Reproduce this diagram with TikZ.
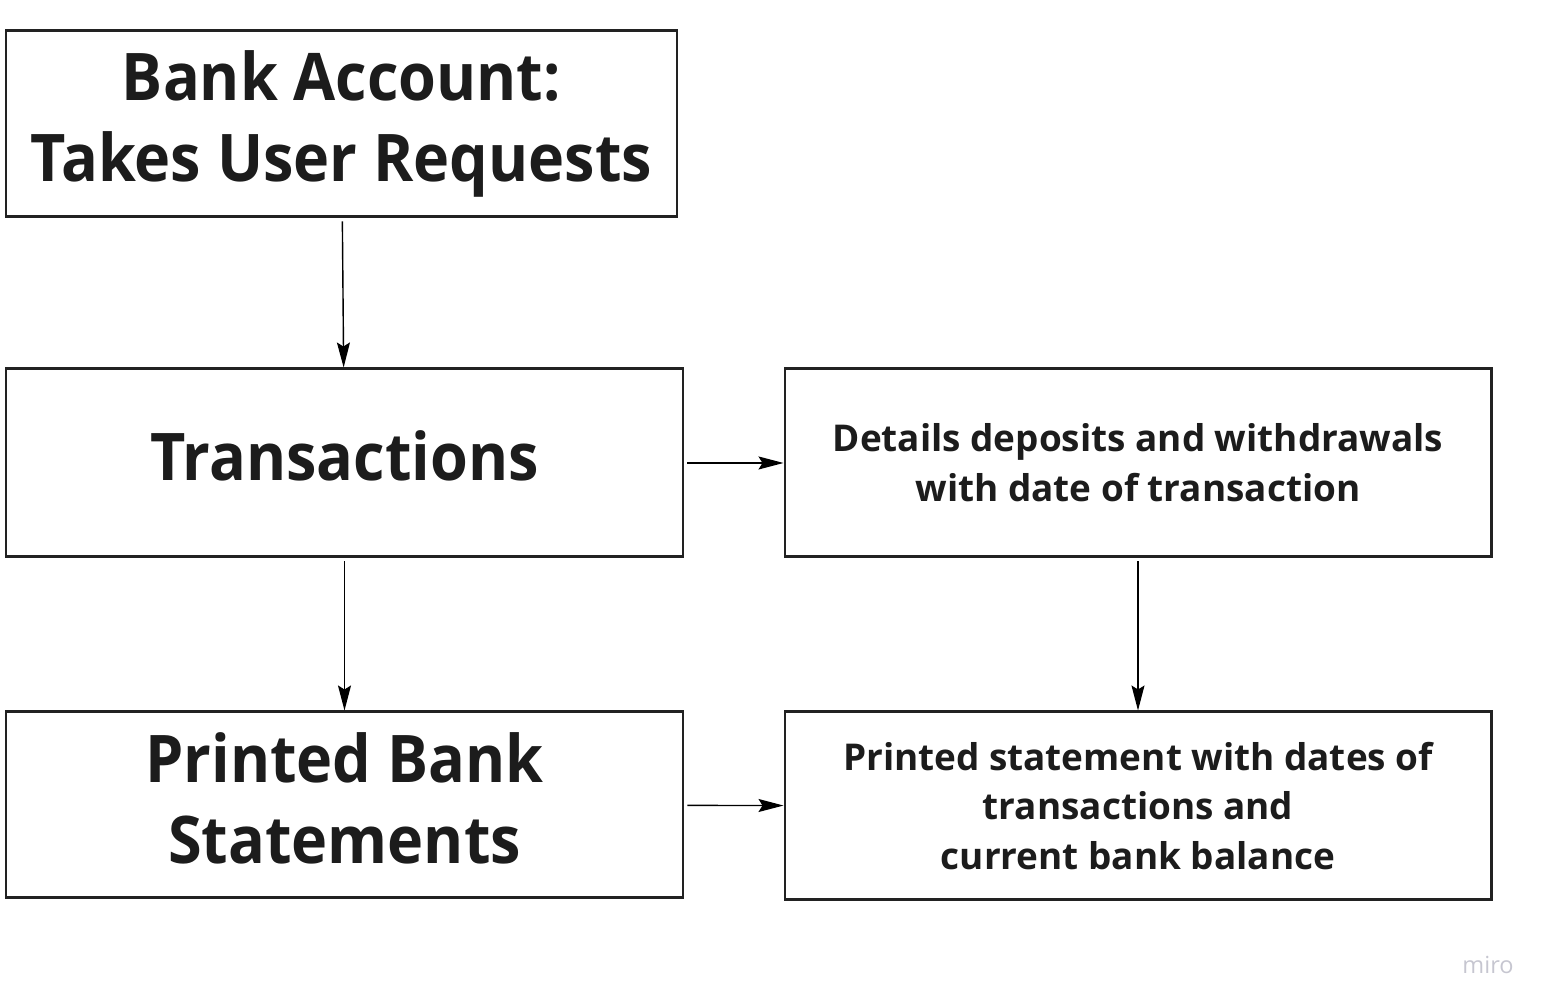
\documentclass[tikz,border=0pt]{standalone}
\usepackage{fontspec}
\setmainfont{Open Sans}
\newfontfamily\narrowsans[FakeStretch=0.93]{Open Sans}
\usepackage{tikz}
\usetikzlibrary{arrows.meta}

\definecolor{boxline}{HTML}{222222}
\definecolor{boxtext}{HTML}{1C1C1C}
\definecolor{miroGray}{HTML}{C6C6D0}

\begin{document}
\begin{tikzpicture}[
    bigbox/.style={draw=boxline, line width=0.85pt, align=center, text=boxtext,
        font=\narrowsans\fontsize{18.7}{23}\selectfont\bfseries, inner sep=0pt},
    smallbox/.style={bigbox, font=\fontsize{10.5}{14.2}\selectfont\bfseries},
    flow/.style={-{Stealth[length=0.25cm,width=0.13cm,inset=0.04cm]}, line width=0.4pt, shorten <=0.03cm}
]
\useasboundingbox (0,0) rectangle (15.49,10.08);
\node [bigbox, minimum width=6.71cm, minimum height=1.86cm] (account) at (3.415,8.84) {Bank Account:\\Takes User Requests};
\node [bigbox, minimum width=6.77cm, minimum height=1.88cm, text depth=0.14cm] (trans) at (3.445,5.45) {Transactions};
\node [smallbox, minimum width=7.06cm, minimum height=1.88cm] (details) at (11.38,5.45) {Details deposits and withdrawals\\with date of transaction};
\node [bigbox, minimum width=6.77cm, minimum height=1.86cm, text depth=0.14cm] (printed) at (3.445,2.03) {Printed Bank\\Statements};
\node [smallbox, minimum width=7.06cm, minimum height=1.88cm] (statement) at (11.38,2.02) {Printed statement with dates of\\transactions and\\current bank balance};
\draw [flow] (account) -- (trans);
\draw [flow] (trans) -- (details);
\draw [flow] (trans) -- (printed);
\draw [flow] (details) -- (statement);
\draw [flow] (printed) -- (statement);
\node [text=miroGray, font=\fontsize{6.7}{8}\selectfont] (miro) at (14.88,0.43) {miro};
\end{tikzpicture}
\end{document}
